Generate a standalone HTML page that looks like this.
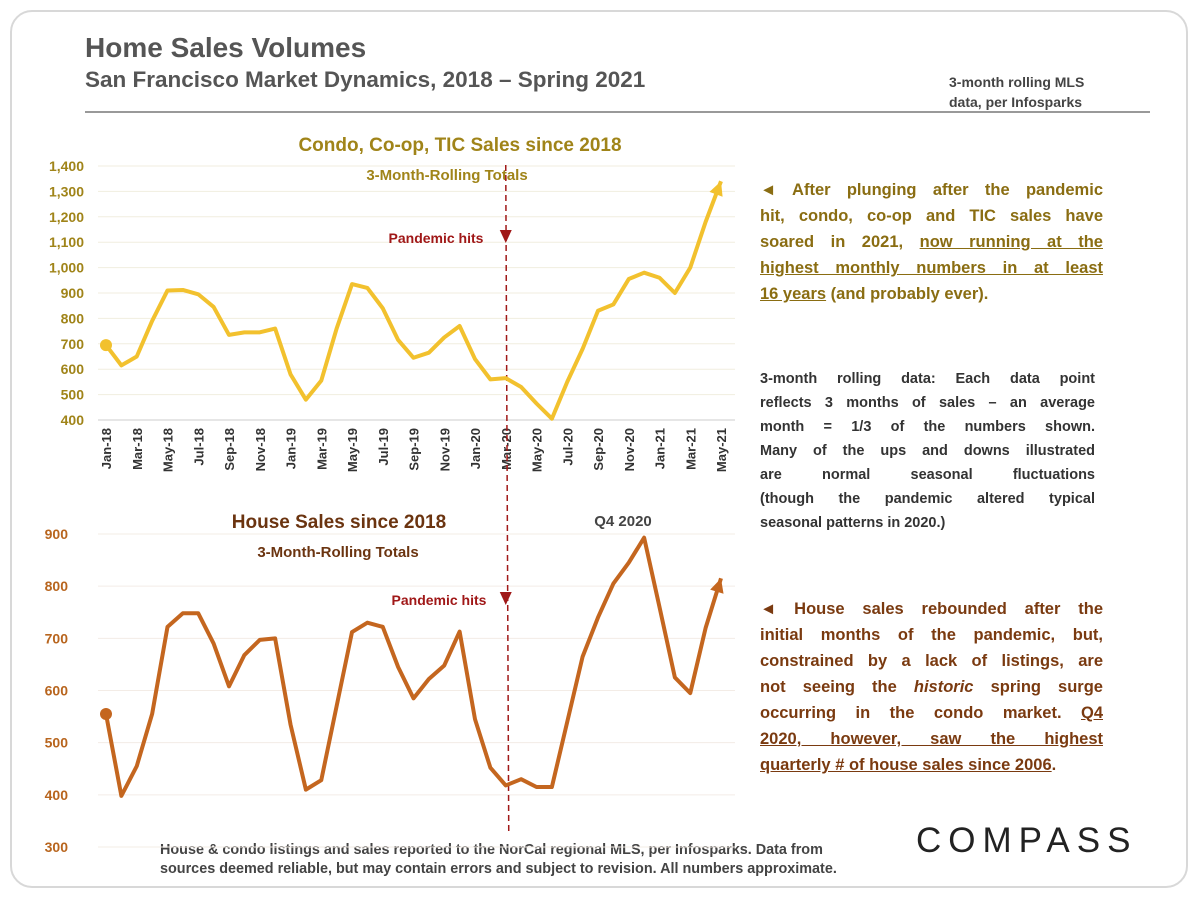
<!DOCTYPE html>
<html><head><meta charset="utf-8"><style>
body{margin:0;background:#fff;font-family:"Liberation Sans",sans-serif;}
#frame{position:absolute;left:10px;top:10px;width:1178px;height:878px;border:2px solid #d8d8d8;border-radius:22px;box-sizing:border-box;}
.t{position:absolute;font-weight:bold;}
.para{position:absolute;left:760px;width:343px;font-weight:bold;white-space:nowrap;}
.para div{text-align:justify;text-align-last:justify;}
.para div.last{text-align-last:left;}
</style></head><body>
<div id="frame"></div>
<div class="t" style="left:85px;top:32px;font-size:28px;color:#555;">Home Sales Volumes</div>
<div class="t" style="left:85px;top:67px;font-size:22.5px;color:#555;">San Francisco Market Dynamics, 2018 – Spring 2021</div>
<div class="t" style="left:949px;top:72px;font-size:14px;color:#444;line-height:20px;">3-month rolling MLS<br>data, per Infosparks</div>
<div style="position:absolute;left:85px;top:111px;width:1065px;height:2px;background:#999;"></div>
<div class="para" style="top:177px;font-size:16.5px;line-height:26px;color:#8a6d12;">
<div>◄ After plunging after the pandemic</div>
<div>hit, condo, co-op and TIC sales have</div>
<div>soared in 2021, <u>now running at the</u></div>
<div><u>highest monthly numbers in at least</u></div>
<div class="last"><u>16 years</u> (and probably ever).</div>
</div>
<div class="para" style="top:367px;width:335px;font-size:14.5px;line-height:24px;color:#333;">
<div>3-month rolling data: Each data point</div>
<div>reflects 3 months of sales – an average</div>
<div>month = 1/3 of the numbers shown.</div>
<div>Many of the ups and downs illustrated</div>
<div>are normal seasonal fluctuations</div>
<div>(though the pandemic altered typical</div>
<div class="last">seasonal patterns in 2020.)</div>
</div>
<div class="para" style="top:596px;font-size:16.5px;line-height:26px;color:#7a3a10;">
<div>◄ House sales rebounded after the</div>
<div>initial months of the pandemic, but,</div>
<div>constrained by a lack of listings, are</div>
<div>not seeing the <i>historic</i> spring surge</div>
<div>occurring in the condo market. <u>Q4</u></div>
<div><u>2020, however, saw the highest</u></div>
<div class="last"><u>quarterly # of house sales since 2006</u>.</div>
</div>
<div class="t" style="left:160px;top:841px;font-size:14.4px;color:#444;line-height:19px;white-space:nowrap;">House &amp; condo listings and sales reported to the NorCal regional MLS, per Infosparks. Data from<br>sources deemed reliable, but may contain errors and subject to revision. All numbers approximate.</div>
<div class="t" style="left:916px;top:821px;font-size:35px;letter-spacing:7px;color:#222;font-weight:normal;">COMPASS</div>

<svg id="chart" width="1200" height="900" style="position:absolute;left:0;top:0"></svg>
<script>
const months=["Jan-18","Mar-18","May-18","Jul-18","Sep-18","Nov-18","Jan-19","Mar-19","May-19","Jul-19","Sep-19","Nov-19","Jan-20","Mar-20","May-20","Jul-20","Sep-20","Nov-20","Jan-21","Mar-21","May-21"];
const condoSales=[695,615,650,790,910,912,895,845,735,745,745,760,580,480,555,760,935,920,840,715,645,665,725,770,640,560,565,530,465,405,550,680,830,855,955,980,960,900,1000,1180,1340];
const houseSales=[555,398,455,555,722,748,748,690,608,668,697,700,535,410,428,570,712,730,722,645,585,622,648,713,545,452,418,430,415,415,540,665,740,805,845,893,760,625,595,720,815];
const condoTicks=[400,500,600,700,800,900,1000,1100,1200,1300,1400];
const houseTicks=[300,400,500,600,700,800,900];

const svg=document.getElementById('chart');
const NS='http://www.w3.org/2000/svg';
function mk(tag,attrs,parent){const e=document.createElementNS(NS,tag);for(const k in attrs)e.setAttribute(k,attrs[k]);(parent||svg).appendChild(e);return e;}
const x=i=>106+i*(615/40);
const yC=v=>420-(v-400)*(254/1000);
const yH=v=>847-(v-300)*(313/600);

condoTicks.forEach(t=>{
  const l=mk('line',{x1:98,x2:735,y1:yC(t),y2:yC(t),stroke:'#f1eedf','stroke-width':1});
  
  
  const tx=mk('text',{x:84,y:yC(t)+5,'text-anchor':'end','font-size':14,'font-weight':'bold',fill:'#a08419','font-family':'Liberation Sans'});
  tx.textContent=t.toLocaleString('en-US');
  
  
});
const ax=mk('line',{x1:98,x2:735,y1:420,y2:420,stroke:'#ccc'});


months.forEach((m,k)=>{
  const tx=mk('text',{transform:`translate(${x(2*k)+5},428) rotate(-90)`,'text-anchor':'end','font-size':13,'font-weight':'bold',fill:'#333','font-family':'Liberation Sans'});
  tx.textContent=m;
  
  
});
houseTicks.forEach(t=>{
  const l=mk('line',{x1:98,x2:735,y1:yH(t),y2:yH(t),stroke:'#f3ece6','stroke-width':1});
  
  
  const tx=mk('text',{x:68,y:yH(t)+5,'text-anchor':'end','font-size':14,'font-weight':'bold',fill:'#b8651e','font-family':'Liberation Sans'});
  tx.textContent=t;
  
  
});
function txt(s,xx,yy,size,fill,name){const t=mk('text',{x:xx,y:yy,'text-anchor':'middle','font-size':size,'font-weight':'bold',fill:fill,'font-family':'Liberation Sans'});t.textContent=s;return t;}
txt('Condo, Co-op, TIC Sales since 2018',460,151,19,'#a08419','condo-chart-title');
txt('3-Month-Rolling Totals',447,180,15,'#a08419','condo-chart-subtitle');
txt('House Sales since 2018',339,528,19,'#6b3410','house-chart-title');
txt('3-Month-Rolling Totals',338,557,15,'#6b3410','house-chart-subtitle');
txt('Q4 2020',623,526,15,'#444','q4-2020-label');
const pl=mk('line',{x1:x(26),x2:x(26)+3,y1:165,y2:835,stroke:'#a01818','stroke-width':1.5,'stroke-dasharray':'6,4'});


txt('Pandemic hits',436,243,14,'#a01818','pandemic-label-top');
txt('Pandemic hits',439,605,14,'#a01818','pandemic-label-bottom');
const a1=mk('polygon',{points:`${x(26)-6},230 ${x(26)+6},230 ${x(26)},243`,fill:'#a01818'});


const a2=mk('polygon',{points:`${x(26)-6},592 ${x(26)+6},592 ${x(26)},605`,fill:'#a01818'});


function series(data,yf,color,name){
  const pts=data.map((v,i)=>x(i)+','+yf(v)).join(' ');
  const p=mk('polyline',{points:pts,fill:'none',stroke:color,'stroke-width':4,'stroke-linejoin':'round'});
  
  
  const c=mk('circle',{cx:x(0),cy:yf(data[0]),r:6,fill:color});
  
  
  const n=data.length-1,x1=x(n-1),y1=yf(data[n-1]),x2=x(n),y2=yf(data[n]);
  const ang=Math.atan2(y2-y1,x2-x1),L=14,W=7;
  const bx=x2-L*Math.cos(ang),by=y2-L*Math.sin(ang);
  const ar=mk('polygon',{points:`${x2},${y2} ${bx+W*Math.sin(ang)},${by-W*Math.cos(ang)} ${bx-W*Math.sin(ang)},${by+W*Math.cos(ang)}`,fill:color});
  
  
}
series(condoSales,yC,'#f2c12e','condo-sales');
series(houseSales,yH,'#c4661f','house-sales');
</script>
</body></html>
